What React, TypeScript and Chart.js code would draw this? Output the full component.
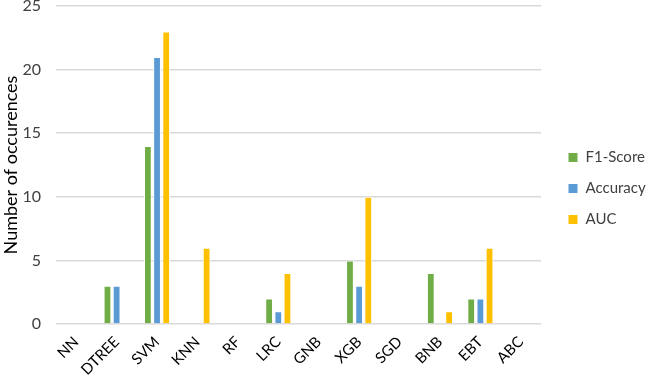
import React, { useEffect, useRef } from "react";
import { Chart, registerables } from "chart.js";

Chart.register(...registerables);

const categories = ["NN", "DTREE", "SVM", "KNN", "RF", "LRC", "GNB", "XGB", "SGD", "BNB", "EBT", "ABC"];
const f1Score = [0, 3, 14, 0, 0, 2, 0, 5, 0, 4, 2, 0];
const accuracy = [0, 3, 21, 0, 0, 1, 0, 3, 0, 0, 2, 0];
const auc = [0, 0, 23, 6, 0, 4, 0, 10, 0, 1, 6, 0];

const FONT = "Lato, 'Open Sans', sans-serif";

const legendShift = {
  id: "legendShift",
  afterLayout(chart: any) {
    const lg = chart.legend;
    if (lg) {
      lg.left += 11;
      lg.right += 11;
    }
  },
};

export default function App() {
  const ref = useRef<HTMLCanvasElement>(null);
  useEffect(() => {
    document.body.style.margin = "0";
    const ctx = ref.current!;
    const mk = (label: string, data: number[], color: string) => ({
      label,
      data,
      backgroundColor: color,
      borderColor: "#ffffff",
      borderWidth: 1,
      categoryPercentage: 0.68,
      barPercentage: 0.85,
    });
    const chart = new Chart(ctx, {
      type: "bar",
      data: {
        labels: categories,
        datasets: [
          mk("F1-Score", f1Score, "#70AD47"),
          mk("Accuracy", accuracy, "#5B9BD5"),
          mk("AUC", auc, "#FFC000"),
        ],
      },
      plugins: [legendShift],
      options: {
        animation: false,
        responsive: false,
        maintainAspectRatio: false,
        layout: { padding: 0 },
        plugins: {
          tooltip: { enabled: false },
          legend: {
            position: "right",
            labels: {
              boxWidth: 10,
              boxHeight: 10,
              padding: 16,
              color: "#404040",
              font: { family: FONT, size: 15 },
            },
          },
        },
        scales: {
          x: {
            grid: { display: false, drawTicks: false },
            border: { display: false },
            afterFit: (s: any) => {
              s.paddingRight = 105;
              s.height = 53;
            },
            ticks: {
              color: "#000000",
              maxRotation: 45,
              minRotation: 45,
              autoSkip: false,
              padding: 9,
              font: { family: FONT, size: 15 },
            },
          },
          y: {
            min: 0,
            max: 25,
            afterFit: (s: any) => {
              s.paddingTop = 6;
              s.width = 56;
            },
            ticks: { stepSize: 5, color: "#404040", font: { family: FONT, size: 16 }, padding: 15 },
            grid: { color: "#d9d9d9", lineWidth: 1.5, drawTicks: false },
            border: { display: false },
            title: {
              display: true,
              text: "Number of occurences",
              color: "#000000",
              padding: { top: 0, bottom: 0 },
              font: { family: FONT, size: 18 },
            },
          },
        },
      },
    });
    return () => chart.destroy();
  }, []);
  return (
    <div style={{ width: 646, height: 377 }}>
      <canvas ref={ref} width={646} height={377} />
    </div>
  );
}
